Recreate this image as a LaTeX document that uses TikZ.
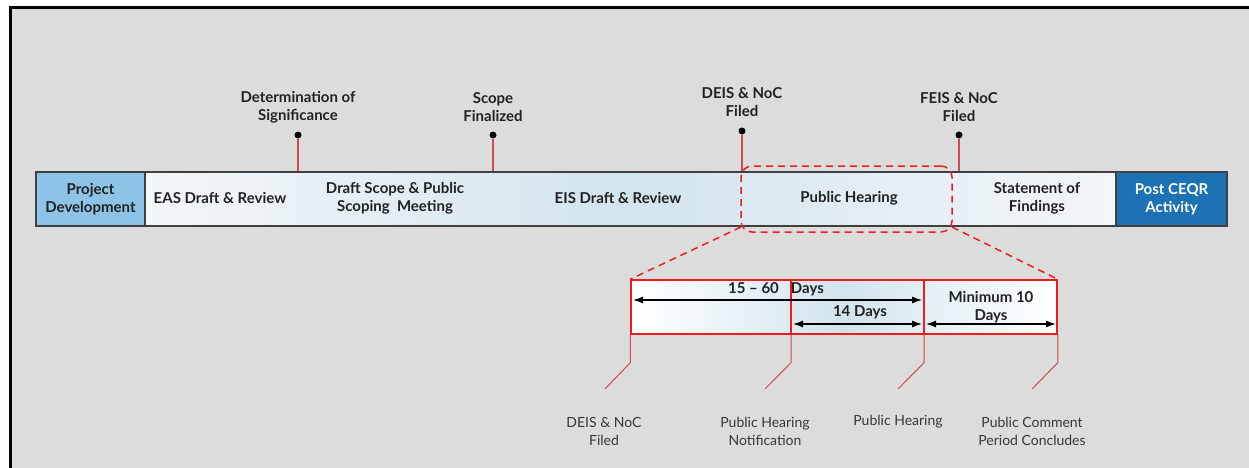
\documentclass[tikz,border=0pt]{standalone}
\usepackage{fontspec}
\setmainfont{Lato}
\usetikzlibrary{arrows.meta}
\definecolor{paneGray}{HTML}{DCDCDC}
\definecolor{pdBlue}{HTML}{8CC3E6}
\definecolor{postBlue}{HTML}{1C72B2}
\definecolor{barBlue}{HTML}{D2E4EE}
\definecolor{barWhite}{HTML}{F4F6F8}
\definecolor{tickRed}{HTML}{CC4A50}
\definecolor{boxRed}{HTML}{EE1C1C}
\definecolor{inkGray}{HTML}{222222}

\begin{document}
\begin{tikzpicture}[x=1pt, y=-1pt]
\tikzset{phase/.style = {draw=black!75, line width=1.2pt, minimum height=54pt, inner sep=0pt, align=center, text=inkGray, font=\bfseries\fontsize{15}{18}\selectfont}}
\tikzset{mtext/.style = {align=center, text=inkGray, font=\bfseries\fontsize{15}{18}\selectfont}}
\tikzset{ltext/.style = {align=center, text=inkGray!90, font=\fontsize{14}{18}\selectfont}}
\tikzset{dot/.style = {circle, fill=black, inner sep=0pt, minimum size=7pt}}
\tikzset{tick/.style = {draw=tickRed, line width=1.2pt}}
\tikzset{span/.style = {draw=black, line width=1.2pt, {Latex[length=10pt,width=7pt]}-{Latex[length=10pt,width=7pt]}}}
\useasboundingbox (0,0) rectangle (1249,468);

% Frame
\fill[white] (0,0) rectangle (1249,468);
\draw[line width=3pt, fill=paneGray] (10,8) rectangle (1270,490);

% Phase bar
\node[phase, fill=pdBlue, minimum width=109pt] (pd) at (90.5,199) {Project\\Development};
\node[phase, left color=barWhite, right color=barWhite, middle color=barBlue, minimum width=971pt] (bar) at (630.5,199) {};
\node[phase, fill=postBlue, text=white, minimum width=111pt] (post) at (1171.5,199) {Post CEQR\\Activity};
\node[mtext] (eas) at (220,198) {EAS Draft \& Review};
\node[mtext] (dscope) at (395,198) {Draft Scope \& Public\\Scoping\ \ Meeting};
\node[mtext] (eis) at (618,198) {EIS Draft \& Review};
\node[mtext] (ph) at (849,198) {Public Hearing};
\node[mtext] (sof) at (1037,198) {Statement of\\Findings};

% Milestones
\node[mtext] (dsigL) at (298,107) {Determination of\\Significance};
\node[dot] (dsig) at (298,135) {};
\node[mtext] (sfinL) at (493,107) {Scope\\Finalized};
\node[dot] (sfin) at (493,135) {};
\node[mtext] (deisL) at (742,102) {DEIS \& NoC\\Filed};
\node[dot] (deis) at (742,131) {};
\node[mtext] (feisL) at (959,107) {FEIS \& NoC\\Filed};
\node[dot] (feis) at (959,135) {};
\draw[tick] (dsig) -- (dsig |- bar.north);
\draw[tick] (sfin) -- (sfin |- bar.north);
\draw[tick] (deis) -- (deis |- bar.north);
\draw[tick] (feis) -- (feis |- bar.north);

% Zoom on the public hearing
\node[draw=boxRed, line width=1.5pt, dash pattern=on 7pt off 5pt, rounded corners=11pt, minimum width=211pt, minimum height=66pt] (focus) at (846.5,199) {};
\node[draw=boxRed, line width=1.5pt, left color=white, right color=white, middle color=barBlue, minimum width=426pt, minimum height=54pt] (detail) at (844,307) {};
\draw[boxRed, line width=1.5pt, dash pattern=on 7pt off 5pt] (741,227) -- (detail.north west);
\draw[boxRed, line width=1.5pt, dash pattern=on 7pt off 5pt] (952,227) -- (detail.north east);
\coordinate (d1) at (791,280);
\coordinate (d2) at (924,280);
\draw[boxRed, line width=1.2pt] (d1) -- (d1 |- detail.south);
\draw[boxRed, line width=1.2pt] (d2) -- (d2 |- detail.south);

% Durations
\node[mtext] (t1560) at (776,289) {15 -- 60\hspace{12pt}Days};
\node[mtext] (t14) at (860,312) {14 Days};
\node[mtext] (tmin) at (991,307) {Minimum 10\\Days};
\draw[span] (633,300) -- (922,300);
\draw[span] (793,324) -- (922,324);
\draw[span] (926,324) -- (1056,324);

% Leaders to events
\coordinate (k1) at (605,389);
\coordinate (k2) at (765,389);
\coordinate (k3) at (898,389);
\coordinate (k4) at (1032,389);
\draw[tick, line width=1pt] (detail.south west) -- ++(0,28) -- (k1);
\draw[tick, line width=1pt] (d1 |- detail.south) -- ++(0,28) -- (k2);
\draw[tick, line width=1pt] (d2 |- detail.south) -- ++(0,28) -- (k3);
\draw[tick, line width=1pt] (detail.south east) -- ++(0,28) -- (k4);
\node[ltext] (e1) at (604,431) {DEIS \& NoC\\Filed};
\node[ltext] (e2) at (765,431) {Public Hearing\\Notification};
\node[ltext] (e3) at (898,422) {Public Hearing};
\node[ltext] (e4) at (1032,431) {Public Comment\\Period Concludes};
\end{tikzpicture}
\end{document}
